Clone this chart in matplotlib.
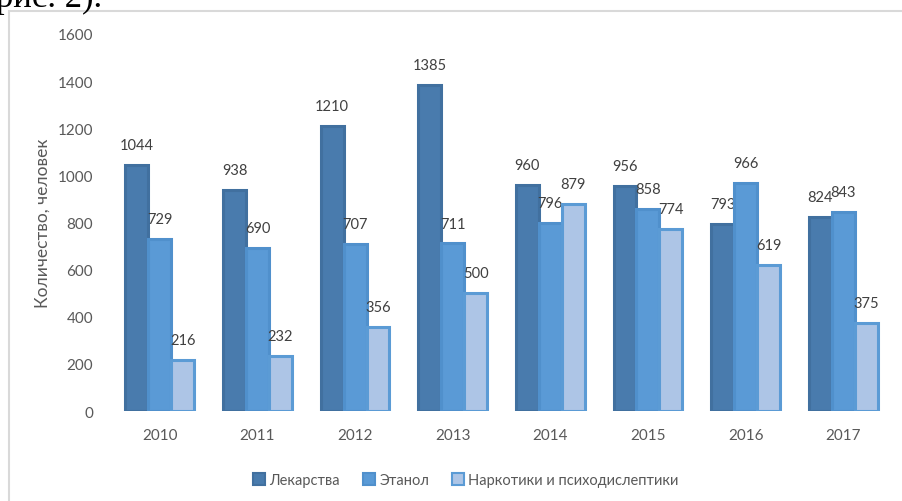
import matplotlib
matplotlib.use("Agg")
import matplotlib.pyplot as plt
import numpy as np
from matplotlib.patches import Patch

plt.rcParams['font.family'] = ['Lato', 'DejaVu Sans']

years = ['2010', '2011', '2012', '2013', '2014', '2015', '2016', '2017']
series_names = ['Лекарства', 'Этанол', 'Наркотики и психодислептики']
drugs = [1044, 938, 1210, 1385, 960, 956, 793, 824]
ethanol = [729, 690, 707, 711, 796, 858, 966, 843]
narcotics = [216, 232, 356, 500, 879, 774, 619, 375]
y_ticks = [0, 200, 400, 600, 800, 1000, 1200, 1400, 1600]

faces = ['#497bad', '#5a9ad6', '#adc5e6']
edges = ['#41709f', '#5090cc', '#5b9bd5']
text_col = '#595959'

fig = plt.figure(figsize=(9.02, 5.02), dpi=100)

# chart frame
frame = plt.Rectangle((9 / 902, -0.1), 1.2, 1 - 12 / 502 + 0.1, transform=fig.transFigure,
                      fill=False, edgecolor='#d9d9d9', linewidth=1.5)
fig.add_artist(frame)

# caption fragment above the chart
fig.text(-4 / 902, 1 - 7 / 502, 'рис. 2).', family='Liberation Serif',
         fontsize=25, color='black', ha='left', va='baseline')

ax = fig.add_axes([111 / 902, 1 - 412 / 502, (892 - 111) / 902, (412 - 35) / 502])
x = np.arange(len(years))
w = 0.235
for i, vals in enumerate([drugs, ethanol, narcotics]):
    pos = x + (i - 1) * w
    ax.bar(pos, vals, width=w, color=faces[i], edgecolor=edges[i], linewidth=2.2,
           label=series_names[i], zorder=3)
    for px, v in zip(pos, vals):
        ax.text(px, v + 55, str(v), ha='center', va='bottom', fontsize=10.5,
                color='#404040')

ax.set_xlim(-0.5, len(years) - 0.5)
ax.set_ylim(0, 1600)
ax.set_yticks(y_ticks)
ax.set_xticks(x)
ax.set_xticklabels(years)
ax.tick_params(axis='both', length=0, labelsize=11, labelcolor=text_col)
ax.tick_params(axis='y', pad=13)
ax.tick_params(axis='x', pad=12)
for s in ax.spines.values():
    s.set_visible(False)
ax.set_ylabel('Количество, человек', fontsize=12.5, color=text_col, labelpad=5)

handles = [Patch(facecolor=faces[i], edgecolor=edges[i], linewidth=1.5, label=series_names[i])
           for i in range(3)]
fig.legend(handles=handles, loc='center', bbox_to_anchor=(466 / 902, 1 - 481 / 502), ncol=3,
           frameon=False, fontsize=10.5, labelcolor=text_col, handlelength=0.8,
           handleheight=0.8, handletextpad=0.3, columnspacing=1.6)

fig.savefig('out.png', dpi=100)
